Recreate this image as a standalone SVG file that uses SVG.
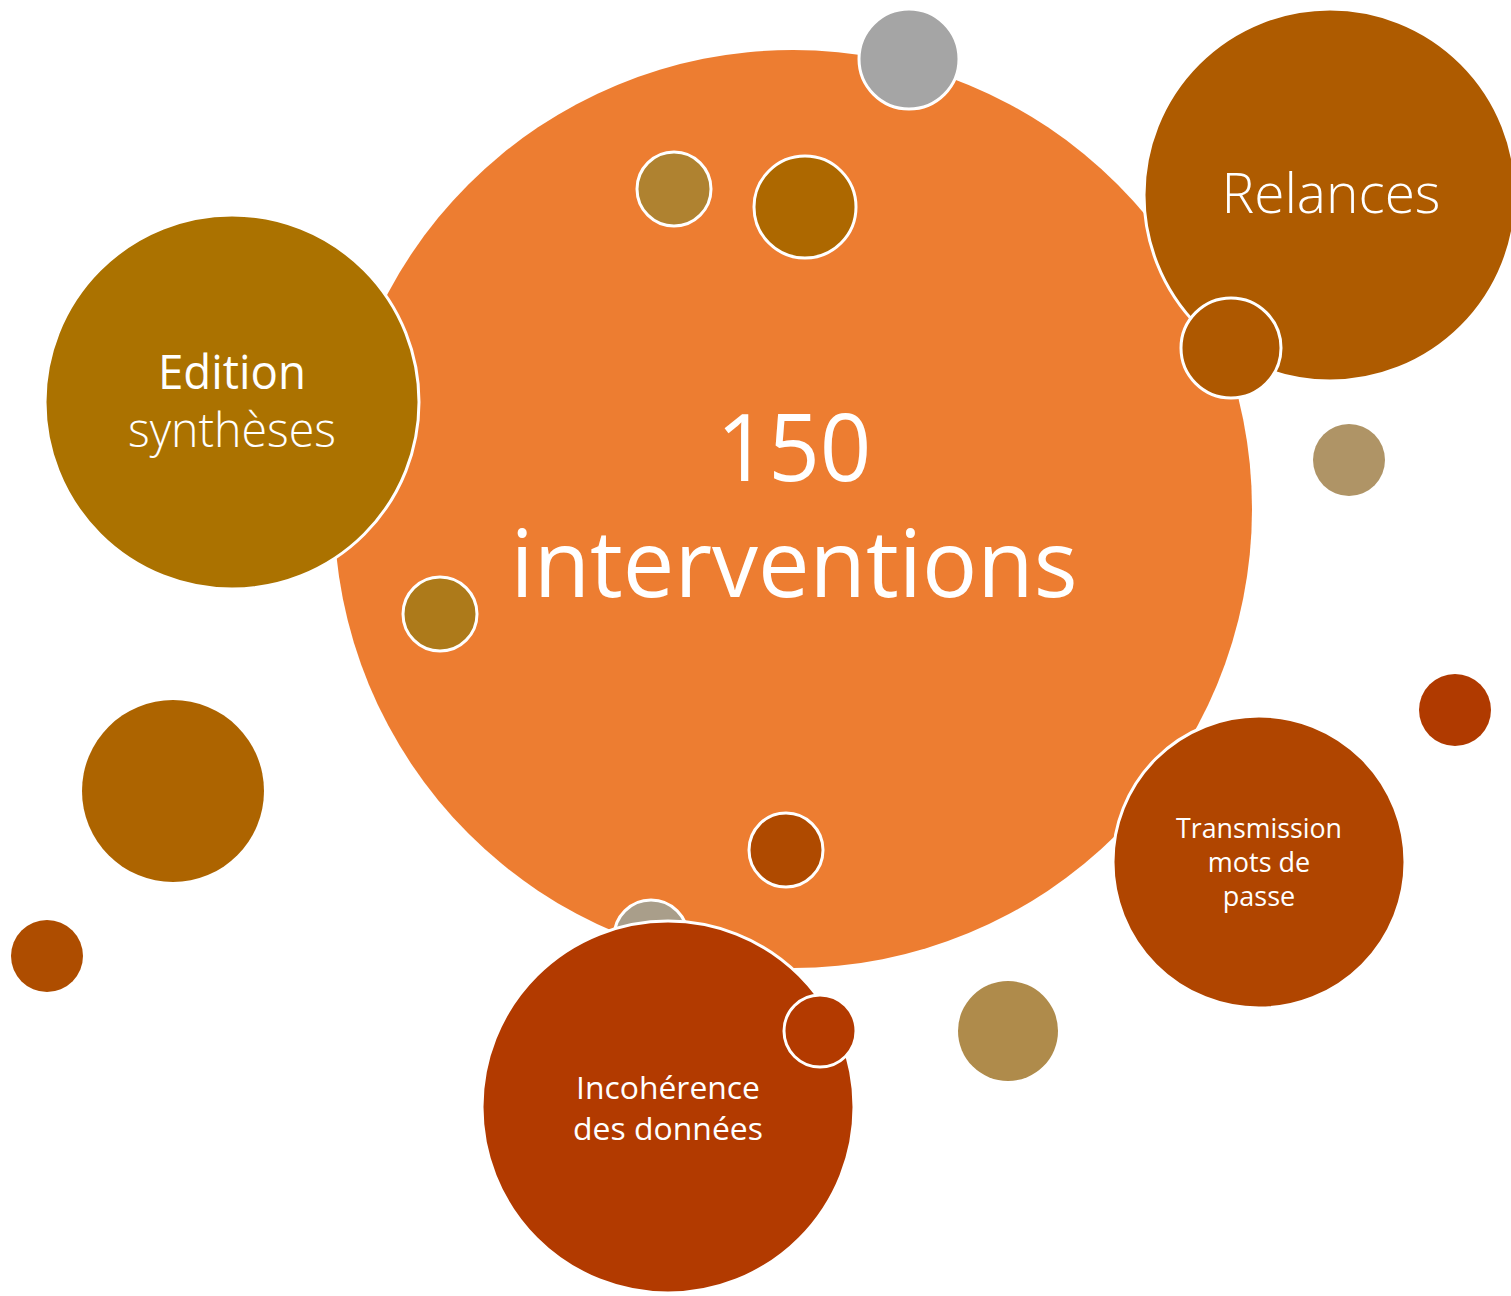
<svg xmlns="http://www.w3.org/2000/svg" width="1511" height="1296" viewBox="0 0 1511 1296">
<style>
.b{stroke:#fff;stroke-width:3}
.t{fill:#fff;font-family:"Open Sans","Noto Sans",sans-serif;text-anchor:middle;font-variant-ligatures:none}
.l{font-weight:300}
</style>
<rect width="1511" height="1296" fill="#fff"/>
<g id="main">
<circle cx="793" cy="509" r="459" fill="#ED7D31"/>
</g>
<g id="bubble-gray-top"><circle class="b" cx="909" cy="59" r="50" fill="#A5A5A5"/></g>
<g id="bubble-1"><circle class="b" cx="674" cy="189" r="37" fill="#AF8230"/></g>
<g id="bubble-2"><circle class="b" cx="805" cy="207" r="51" fill="#AD6800"/></g>
<g id="bubble-3"><circle class="b" cx="440" cy="614" r="37" fill="#AD7A1A"/></g>
<g id="bubble-4"><circle class="b" cx="786" cy="850" r="37" fill="#AF4A00"/></g>
<g id="bubble-5"><circle class="b" cx="651" cy="937" r="37" fill="#A99E8A"/></g>
<g id="relances">
<circle class="b" cx="1330" cy="195" r="186" fill="#AE5B00"/>
<text class="t l" x="1331" y="213" font-size="56" textLength="219" lengthAdjust="spacingAndGlyphs">Relances</text>
</g>
<g id="bubble-6"><circle class="b" cx="1231" cy="348" r="50" fill="#AE5800"/></g>
<g id="edition">
<circle class="b" cx="232" cy="402" r="187" fill="#AB7200"/>
<text class="t" x="232" y="389" font-size="48" textLength="148" lengthAdjust="spacingAndGlyphs">Edition</text>
<text class="t l" x="232" y="447" font-size="48" textLength="208" lengthAdjust="spacingAndGlyphs">synthèses</text>
</g>
<g id="transmission">
<circle class="b" cx="1259" cy="862" r="146" fill="#B04500"/>
<text class="t" x="1259" y="838" font-size="27" textLength="166" lengthAdjust="spacingAndGlyphs">Transmission</text>
<text class="t" x="1259" y="872" font-size="27">mots de</text>
<text class="t" x="1259" y="906" font-size="27">passe</text>
</g>
<g id="incoherence">
<circle class="b" cx="668" cy="1107" r="186" fill="#B23A00"/>
<text class="t" x="668" y="1099" font-size="31" textLength="184" lengthAdjust="spacingAndGlyphs">Incohérence</text>
<text class="t" x="668" y="1140" font-size="31" textLength="190" lengthAdjust="spacingAndGlyphs">des données</text>
</g>
<g id="bubble-7"><circle class="b" cx="820" cy="1031" r="36" fill="#B33A00"/></g>
<g id="bubble-8"><circle cx="1349" cy="460" r="36" fill="#AF9466"/></g>
<g id="bubble-9"><circle cx="173" cy="791" r="91" fill="#AD6400"/></g>
<g id="bubble-10"><circle cx="1455" cy="710" r="36" fill="#B03A00"/></g>
<g id="bubble-11"><circle cx="47" cy="956" r="36" fill="#AE4D00"/></g>
<g id="bubble-12"><circle cx="1008" cy="1031" r="50" fill="#AF8B4B"/></g>
<g id="main-label">
<text class="t" x="794" y="481" font-size="94" textLength="155" lengthAdjust="spacingAndGlyphs">150</text>
<text class="t" x="794" y="597" font-size="94" textLength="567" lengthAdjust="spacingAndGlyphs">interventions</text>
</g>
<g id="connectors"/>
</svg>
